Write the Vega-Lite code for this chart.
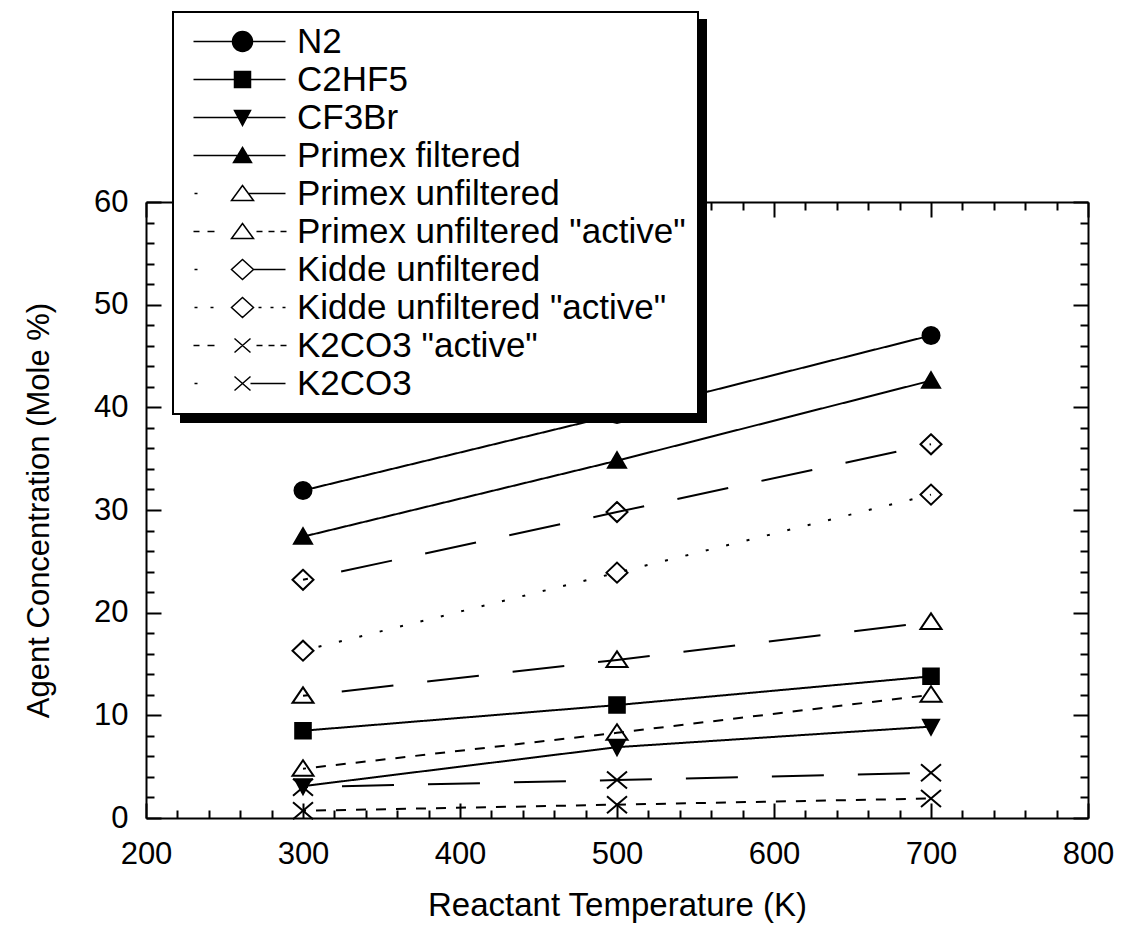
{
  "$schema": "https://vega.github.io/schema/vega-lite/v6.json",
  "width": 942,
  "height": 616,
  "autosize": {"type": "none"},
  "padding": {"left": 146, "top": 202, "right": 59, "bottom": 111},
  "background": "white",
  "data": {
    "values": [
      {"series": "N2", "temp": 300, "conc": 31.9},
      {"series": "N2", "temp": 500, "conc": 39.3},
      {"series": "N2", "temp": 700, "conc": 47.0},
      {"series": "C2HF5", "temp": 300, "conc": 8.5},
      {"series": "C2HF5", "temp": 500, "conc": 11.0},
      {"series": "C2HF5", "temp": 700, "conc": 13.8},
      {"series": "CF3Br", "temp": 300, "conc": 3.1},
      {"series": "CF3Br", "temp": 500, "conc": 6.9},
      {"series": "CF3Br", "temp": 700, "conc": 8.9},
      {"series": "Primex filtered", "temp": 300, "conc": 27.4},
      {"series": "Primex filtered", "temp": 500, "conc": 34.8},
      {"series": "Primex filtered", "temp": 700, "conc": 42.6},
      {"series": "Primex unfiltered", "temp": 300, "conc": 11.9},
      {"series": "Primex unfiltered", "temp": 500, "conc": 15.4},
      {"series": "Primex unfiltered", "temp": 700, "conc": 19.1},
      {"series": "Primex unfiltered \"active\"", "temp": 300, "conc": 4.8},
      {"series": "Primex unfiltered \"active\"", "temp": 500, "conc": 8.3},
      {"series": "Primex unfiltered \"active\"", "temp": 700, "conc": 12.0},
      {"series": "Kidde unfiltered", "temp": 300, "conc": 23.2},
      {"series": "Kidde unfiltered", "temp": 500, "conc": 29.8},
      {"series": "Kidde unfiltered", "temp": 700, "conc": 36.4},
      {"series": "Kidde unfiltered \"active\"", "temp": 300, "conc": 16.3},
      {"series": "Kidde unfiltered \"active\"", "temp": 500, "conc": 23.9},
      {"series": "Kidde unfiltered \"active\"", "temp": 700, "conc": 31.5},
      {"series": "K2CO3 \"active\"", "temp": 300, "conc": 0.7},
      {"series": "K2CO3 \"active\"", "temp": 500, "conc": 1.3},
      {"series": "K2CO3 \"active\"", "temp": 700, "conc": 1.9},
      {"series": "K2CO3", "temp": 300, "conc": 3.0},
      {"series": "K2CO3", "temp": 500, "conc": 3.7},
      {"series": "K2CO3", "temp": 700, "conc": 4.4}
    ]
  },
  "layer": [
    {
      "mark": {"type": "line", "stroke": "black", "strokeWidth": 2, "strokeDashOffset": 47},
      "encoding": {
        "x": {
          "field": "temp", "type": "quantitative",
          "scale": {"domain": [200, 800], "nice": false, "zero": false},
          "axis": {
            "orient": "bottom",
            "title": "Reactant Temperature (K)",
            "values": [200,220,240,260,280,300,320,340,360,380,400,420,440,460,480,500,520,540,560,580,600,620,640,660,680,700,720,740,760,780,800],
            "labelExpr": "datum.value % 100 === 0 ? datum.label : ''",
            "tickSize": {"condition": {"test": "datum.value % 100 === 0", "value": -15}, "value": -8},
            "labelPadding": 36,
            "titlePadding": 13,
            "titleFontSize": 33,
            "labelFlush": false,
            "labelOverlap": false,
            "labelBound": false
          }
        },
        "y": {
          "field": "conc", "type": "quantitative",
          "scale": {"domain": [0, 60], "nice": false},
          "axis": {
            "orient": "left",
            "title": "Agent Concentration (Mole %)",
            "values": [0,2,4,6,8,10,12,14,16,18,20,22,24,26,28,30,32,34,36,38,40,42,44,46,48,50,52,54,56,58,60],
            "labelExpr": "datum.value % 10 === 0 ? datum.label : ''",
            "tickSize": {"condition": {"test": "datum.value % 10 === 0", "value": -15}, "value": -8},
            "labelPadding": 33,
            "titlePadding": 38,
            "titleFontSize": 31,
            "labelFlush": false,
            "labelOverlap": false,
            "labelBound": false
          }
        },
        "strokeDash": {
          "field": "series", "type": "nominal",
          "scale": {
            "domain": ["N2", "C2HF5", "CF3Br", "Primex filtered", "Primex unfiltered", "Primex unfiltered \"active\"", "Kidde unfiltered", "Kidde unfiltered \"active\"", "K2CO3 \"active\"", "K2CO3"],
            "range": [[1, 0], [1, 0], [1, 0], [1, 0], [52, 34], [10, 10], [52, 34], [3, 18], [10, 10], [52, 34]]
          },
          "legend": null
        }
      }
    },
    {
      "mark": {"type": "point", "filled": true, "fill": "black", "stroke": "black", "strokeWidth": 2, "size": 400, "opacity": 1},
      "encoding": {
        "x": {"field": "temp", "type": "quantitative", "axis": null},
        "y": {"field": "conc", "type": "quantitative", "axis": null},
        "shape": {
          "field": "series", "type": "nominal",
          "scale": {
            "domain": ["N2", "C2HF5", "CF3Br", "Primex filtered", "Primex unfiltered", "Primex unfiltered \"active\"", "Kidde unfiltered", "Kidde unfiltered \"active\"", "K2CO3 \"active\"", "K2CO3"],
            "range": [
              "M-0.85,0A0.85,0.85,0,1,1,0.85,0A0.85,0.85,0,1,1,-0.85,0Z",
              "M-0.78,-0.78H0.78V0.78H-0.78Z",
              "M-0.8,-0.7H0.8L0,0.8Z",
              "M0,-0.85L0.9,0.7H-0.9Z",
              "M0,-0.85L1.05,0.7H-1.05ZM0,-0.85L-1.05,0.7H1.05Z",
              "M0,-0.85L1.05,0.7H-1.05ZM0,-0.85L-1.05,0.7H1.05Z",
              "M0,-1L1.05,0L0,1L-1.05,0ZM0,-1L-1.05,0L0,1L1.05,0Z",
              "M0,-1L1.05,0L0,1L-1.05,0ZM0,-1L-1.05,0L0,1L1.05,0Z",
              "M-1,-0.85L1,0.85M1,-0.85L-1,0.85",
              "M-1,-0.85L1,0.85M1,-0.85L-1,0.85"
            ]
          },
          "legend": {
            "title": null,
            "orient": "none",
            "legendX": 35,
            "legendY": -182,
            "direction": "vertical",
            "zindex": 1,
            "fillColor": "black",
            "strokeColor": "black",
            "padding": 12,
            "symbolOffset": 38,
            "labelOffset": 39,
            "rowPadding": 2,
            "labelFont": "Liberation Sans",
            "labelFontSize": 35,
            "labelColor": "black",
            "labelLimit": 1000,
            "symbolSize": 400
          }
        }
      }
    },
    {
      "transform": [{"filter": "false"}],
      "mark": {"type": "point", "filled": true, "fill": "black", "stroke": "black", "strokeWidth": 2, "size": 400, "opacity": 1},
      "encoding": {
        "x": {
          "field": "temp", "type": "quantitative",
          "axis": {
            "orient": "top",
            "title": null,
            "labels": false,
            "values": [200,220,240,260,280,300,320,340,360,380,400,420,440,460,480,500,520,540,560,580,600,620,640,660,680,700,720,740,760,780,800],
            "tickSize": {"condition": {"test": "datum.value % 100 === 0", "value": -15}, "value": -8}
          }
        },
        "y": {
          "field": "conc", "type": "quantitative",
          "axis": {
            "orient": "right",
            "title": null,
            "labels": false,
            "values": [0,2,4,6,8,10,12,14,16,18,20,22,24,26,28,30,32,34,36,38,40,42,44,46,48,50,52,54,56,58,60],
            "tickSize": {"condition": {"test": "datum.value % 10 === 0", "value": -15}, "value": -8}
          }
        },
        "shape": {
          "field": "series", "type": "nominal",
          "scale": {
            "domain": ["N2", "C2HF5", "CF3Br", "Primex filtered", "Primex unfiltered", "Primex unfiltered \"active\"", "Kidde unfiltered", "Kidde unfiltered \"active\"", "K2CO3 \"active\"", "K2CO3"],
            "range": [
              "M-4.7,0H4.5M-0.8,0A1,1,0,1,1,1.2,0A1,1,0,1,1,-0.8,0Z",
              "M-4.7,0H4.5M-0.6,-0.8H1V0.8H-0.6Z",
              "M-4.7,0H4.5M-0.6,-0.7H1L0.2,0.8Z",
              "M-4.7,0H4.5M0.2,-0.8L1.1,0.7H-0.7Z",
              "M-4.6,0H-4.3M0.8,0H4.5M0.2,-0.8L1.3,0.7H-0.9ZM0.2,-0.8L-0.9,0.7H1.3Z",
              "M-4.7,0H-4.1M-3.3,0H-2.6M1.6,0H2.2M2.8,0H3.4M4,0H4.6M0.2,-0.8L1.3,0.7H-0.9ZM0.2,-0.8L-0.9,0.7H1.3Z",
              "M-4.6,0H-4.3M1.3,0H4.5M0.2,-1L1.3,0L0.2,1L-0.9,0ZM0.2,-1L-0.9,0L0.2,1L1.3,0Z",
              "M-4.6,0H-4.3M-3,0H-2.7M1.8,0H2.1M3,0H3.3M4.2,0H4.5M0.2,-1L1.3,0L0.2,1L-0.9,0ZM0.2,-1L-0.9,0L0.2,1L1.3,0Z",
              "M-4.7,0H-4.1M-3.3,0H-2.6M1.6,0H2.2M2.8,0H3.4M4,0H4.6M-0.6,-0.7L1,0.7M1,-0.7L-0.6,0.7",
              "M-4.6,0H-4.3M1,0H4.5M-0.6,-0.7L1,0.7M1,-0.7L-0.6,0.7"
            ]
          },
          "legend": {
            "title": null,
            "orient": "none",
            "legendX": 27,
            "legendY": -190,
            "direction": "vertical",
            "zindex": 2,
            "fillColor": "white",
            "strokeColor": "black",
            "padding": 12,
            "symbolOffset": 38,
            "labelOffset": 39,
            "rowPadding": 2,
            "labelFont": "Liberation Sans",
            "labelFontSize": 35,
            "labelColor": "black",
            "labelLimit": 1000,
            "symbolSize": 400
          }
        }
      }
    }
  ],
  "resolve": {
    "scale": {"shape": "independent"},
    "axis": {"x": "independent", "y": "independent"},
    "legend": {"shape": "independent"}
  },
  "config": {
    "font": "Liberation Sans",
    "view": {"stroke": null},
    "axis": {
      "grid": false,
      "domainColor": "black",
      "domainWidth": 2,
      "tickColor": "black",
      "tickWidth": 2,
      "labelFont": "Liberation Sans",
      "labelFontSize": 31,
      "labelColor": "black",
      "titleFont": "Liberation Sans",
      "titleFontSize": 30,
      "titleFontWeight": "normal",
      "titleColor": "black"
    },
    "legend": {"strokeWidth": 2}
  }
}
